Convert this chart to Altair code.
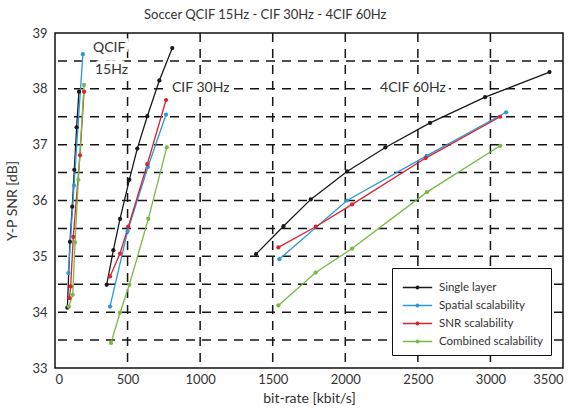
import altair as alt
import pandas as pd

series_names = ["Single layer", "Spatial scalability", "SNR scalability", "Combined scalability"]
series_colors = ["#1a1a1a", "#2a98dc", "#d9232d", "#78b844"]

# QCIF 15Hz
qcif_single_rate = [85, 103, 119, 133, 149, 165]
qcif_single_snr = [34.08, 35.26, 35.89, 36.55, 37.31, 37.95]
qcif_spatial_rate = [92, 131, 192]
qcif_spatial_snr = [34.70, 36.27, 38.62]
qcif_snr_rate = [99, 108, 126, 172, 200]
qcif_snr_snr = [34.25, 34.46, 35.35, 36.81, 37.95]
qcif_comb_rate = [95, 122, 138, 161, 200]
qcif_comb_snr = [34.10, 34.31, 35.25, 36.37, 38.07]

# CIF 30Hz
cif_single_rate = [356, 402, 448, 512, 567, 636, 719, 808]
cif_single_snr = [34.49, 35.11, 35.67, 36.37, 36.93, 37.51, 38.15, 38.73]
cif_spatial_rate = [379, 500, 640, 765]
cif_spatial_snr = [34.10, 35.45, 36.60, 37.54]
cif_snr_rate = [379, 448, 505, 636, 765]
cif_snr_snr = [34.64, 35.05, 35.53, 36.65, 37.80]
cif_comb_rate = [386, 448, 512, 643, 770]
cif_comb_snr = [33.45, 33.99, 34.49, 35.67, 36.95]

# 4CIF 60Hz
c4_single_rate = [1385, 1574, 1762, 2012, 2276, 2584, 2963, 3407]
c4_single_snr = [35.04, 35.54, 36.02, 36.52, 36.95, 37.39, 37.85, 38.30]
c4_spatial_rate = [1546, 2012, 2560, 3108]
c4_spatial_snr = [34.95, 36.00, 36.80, 37.58]
c4_snr_rate = [1539, 1796, 2047, 2554, 3067]
c4_snr_snr = [35.16, 35.53, 35.93, 36.76, 37.50]
c4_comb_rate = [1539, 1796, 2047, 2562, 3067]
c4_comb_snr = [34.12, 34.71, 35.14, 36.15, 36.98]

# annotations
note_text = ["QCIF", "15Hz", "CIF 30Hz", "4CIF 60Hz"]
note_rate = [262, 275, 806, 2240]
note_snr = [38.73, 38.34, 38.01, 38.01]

x_ticks = [0, 500, 1000, 1500, 2000, 2500, 3000, 3500]
y_ticks = [33, 34, 35, 36, 37, 38, 39]
x_grid = [500, 1000, 1500, 2000, 2500, 3000]
y_grid = [33.5, 34, 34.5, 35, 35.5, 36, 36.5, 37, 37.5, 38, 38.5]

groups = [
    ("QCIF", "Single layer", qcif_single_rate, qcif_single_snr),
    ("QCIF", "Spatial scalability", qcif_spatial_rate, qcif_spatial_snr),
    ("QCIF", "SNR scalability", qcif_snr_rate, qcif_snr_snr),
    ("QCIF", "Combined scalability", qcif_comb_rate, qcif_comb_snr),
    ("CIF", "Single layer", cif_single_rate, cif_single_snr),
    ("CIF", "Spatial scalability", cif_spatial_rate, cif_spatial_snr),
    ("CIF", "SNR scalability", cif_snr_rate, cif_snr_snr),
    ("CIF", "Combined scalability", cif_comb_rate, cif_comb_snr),
    ("4CIF", "Single layer", c4_single_rate, c4_single_snr),
    ("4CIF", "Spatial scalability", c4_spatial_rate, c4_spatial_snr),
    ("4CIF", "SNR scalability", c4_snr_rate, c4_snr_snr),
    ("4CIF", "Combined scalability", c4_comb_rate, c4_comb_snr),
]
rows = []
for g, s, xs, ys in groups:
    for i, (xv, yv) in enumerate(zip(xs, ys)):
        rows.append({"group": g, "series": s, "rate": xv, "snr": yv, "idx": i})
df = pd.DataFrame(rows)
notes = pd.DataFrame({"text": note_text, "rate": note_rate, "snr": note_snr})
xg = pd.DataFrame({"rate": x_grid})
yg = pd.DataFrame({"snr": y_grid})

FONT = "Lato"
INK = "#333333"
GRID = "#151515"

axis_common = dict(
    grid=False, domain=False, ticks=False,
    labelFont=FONT, labelFontSize=13, labelColor=INK,
    titleFont=FONT, titleFontSize=14, titleFontWeight="normal", titleColor=INK,
)

x_scale = alt.Scale(domain=[0, 3500], nice=False)
y_scale = alt.Scale(domain=[33, 39], nice=False, zero=False)

x_enc = alt.X("rate:Q", scale=x_scale,
              axis=alt.Axis(values=x_ticks, title="bit-rate [kbit/s]", format="d",
                            labelPadding=5, titlePadding=5, **axis_common))
y_enc = alt.Y("snr:Q", scale=y_scale,
              axis=alt.Axis(values=y_ticks, title="Y-P SNR [dB]", format="d",
                            labelPadding=8, titlePadding=12, **axis_common))

legend_symbol = "M-1.4,0H1.4M0.12,0A0.12,0.12,0,1,1,-0.12,0A0.12,0.12,0,1,1,0.12,0"

color_enc = alt.Color(
    "series:N",
    scale=alt.Scale(domain=series_names, range=series_colors),
    legend=alt.Legend(
        title=None, orient="none", legendX=337, legendY=235,
        symbolType=legend_symbol, symbolSize=441, symbolStrokeWidth=1.5,
        symbolOffset=6, labelOffset=10,
        labelFont=FONT, labelFontSize=11.5, labelColor=INK,
        padding=8, rowPadding=1,
        strokeColor="#111111", fillColor="white", cornerRadius=0,
    ),
)

vgrid = alt.Chart(xg).mark_rule(
    color=GRID, strokeWidth=1.5, strokeDash=[9, 7]
).encode(x=alt.X("rate:Q", scale=x_scale))

hgrid = alt.Chart(yg).mark_rule(
    color=GRID, strokeWidth=1.5, strokeDash=[9, 7]
).encode(y=alt.Y("snr:Q", scale=y_scale))

lines = alt.Chart(df).mark_line(
    strokeWidth=1.3,
    point=alt.OverlayMarkDef(filled=True, size=18, opacity=1),
).encode(
    x=x_enc, y=y_enc, color=color_enc,
    detail="group:N", order="idx:Q",
)

halo = alt.Chart(notes).mark_text(
    align="left", baseline="middle", font=FONT, fontSize=14,
    color="white", stroke="white", strokeWidth=7
).encode(x="rate:Q", y="snr:Q", text="text:N")

texts = alt.Chart(notes).mark_text(
    align="left", baseline="middle", font=FONT, fontSize=14, color=INK
).encode(x="rate:Q", y="snr:Q", text="text:N")

chart = alt.layer(vgrid, hgrid, halo, lines, texts).properties(
    width=508, height=335,
    background="white",
    title=alt.TitleParams("Soccer QCIF 15Hz - CIF 30Hz - 4CIF 60Hz",
                          font=FONT, fontSize=13, fontWeight="normal",
                          color=INK, offset=5, anchor="start", frame="group", dx=89),
    autosize=alt.AutoSizeParams(type="none"),
    padding={"left": 55, "top": 33, "right": 20, "bottom": 46},
).configure_view(
    stroke="#111111", strokeWidth=1.5
)

chart.save("out.html", embed_options={"renderer": "svg", "actions": False})
